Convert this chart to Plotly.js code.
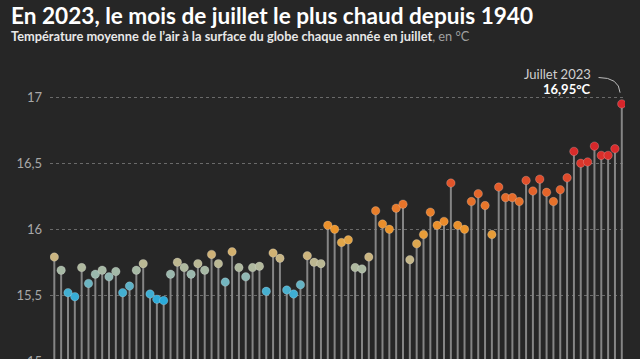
<!DOCTYPE html>
<html><head><meta charset="utf-8">
<script src="https://cdn.plot.ly/plotly-3.0.1.min.js"></script>
<style>html,body{margin:0;padding:0;background:#262626;overflow:hidden;width:640px;height:359px}#c{width:640px;height:400px}</style>
</head><body><div id="c"></div>
<script>
const startYear = 1940;
const temps = [
15.79,15.69,15.52,15.49,15.71,15.59,15.66,15.69,15.64,15.68,
15.52,15.57,15.69,15.74,15.51,15.47,15.46,15.66,15.75,15.71,
15.66,15.74,15.69,15.81,15.74,15.60,15.83,15.71,15.64,15.71,
15.72,15.53,15.82,15.78,15.54,15.51,15.58,15.80,15.75,15.74,
16.03,16.00,15.90,15.92,15.71,15.70,15.79,16.14,16.04,16.00,
16.16,16.19,15.77,15.89,15.96,16.13,16.03,16.06,16.35,16.03,
16.00,16.21,16.27,16.18,15.96,16.32,16.24,16.24,16.21,16.37,
16.29,16.38,16.28,16.21,16.30,16.39,16.59,16.50,16.51,16.63,
16.56,16.56,16.61,16.95
];
const years = temps.map((_, i) => startYear + i);
const yTicks = [15, 15.5, 16, 16.5, 17];
const yBase = 14.7;

const stemX = [], stemY = [];
years.forEach((yr, i) => { stemX.push(yr, yr, null); stemY.push(yBase, temps[i], null); });

const colorscale = [
 [0, '#27a9db'], [0.083, '#4fb1cd'], [0.167, '#97b8b0'], [0.225, '#b3b99c'],
 [0.29, '#cdb47e'], [0.375, '#e0a64a'], [0.458, '#eb952c'], [0.583, '#e87c2a'],
 [0.708, '#e3602a'], [0.833, '#dc3b2b'], [1, '#d7262b']
];

const traces = [
 {x: stemX, y: stemY, mode: 'lines', type: 'scatter', line: {color: '#858585', width: 2}, hoverinfo: 'skip'},
 {x: years, y: temps, mode: 'markers', type: 'scatter',
  marker: {size: 8.5, color: temps, colorscale: colorscale, cmin: 15.45, cmax: 16.65,
           line: {width: 0.6, color: 'rgba(255,255,255,0.35)'}}}
];

const fontFam = 'Lato, "Noto Sans", sans-serif';
const layout = {
 width: 640, height: 400,
 paper_bgcolor: '#262626', plot_bgcolor: '#262626',
 margin: {l: 50, r: 15, t: 40, b: 0},
 showlegend: false,
 separators: ', ',
 font: {family: fontFam, color: '#aaaaaa'},
 xaxis: {range: [1939.37, 2023.47], showgrid: false, zeroline: false, showticklabels: false, showline: false, ticks: ''},
 yaxis: {range: [14.707, 17.434], tickvals: yTicks, showgrid: true, gridcolor: '#6a6a6a', griddash: 'dot', gridwidth: 1,
         zeroline: false, showline: false, ticks: '', ticklabelstandoff: 7,
         tickfont: {size: 13, color: '#a8a8a8', family: fontFam}},
 annotations: [
  {xref: 'paper', yref: 'paper', x: -0.071, y: 1.069, xanchor: 'left', yanchor: 'middle', showarrow: false,
   text: '<b>En 2023, le mois de juillet le plus chaud depuis 1940</b>', font: {size: 22.6, color: '#ffffff', family: fontFam}},
  {xref: 'paper', yref: 'paper', x: -0.071, y: 1.0125, xanchor: 'left', yanchor: 'middle', showarrow: false,
   text: '<b>Température moyenne de l’air à la surface du globe chaque année en juillet</b><span style="color:#a0a0a0">, en °C</span>',
   font: {size: 12.8, color: '#e8e8e8', family: fontFam}},
  {xref: 'x', yref: 'y', x: 2018.8, y: 17.177, xanchor: 'right', yanchor: 'middle', showarrow: false,
   text: 'Juillet 2023', font: {size: 13, color: '#d0d0d0', family: fontFam}},
  {xref: 'x', yref: 'y', x: 2018.8, y: 17.063, xanchor: 'right', yanchor: 'middle', showarrow: false,
   text: '<b>16,95°C</b>', font: {size: 13, color: '#ffffff', family: fontFam}}
 ],
 shapes: [
  {type: 'path', xref: 'x', yref: 'y', path: 'M 2019.6 17.15 Q 2022.6 17.15 2022.75 17.035',
   line: {color: '#bbbbbb', width: 1}}
 ]
};
Plotly.newPlot('c', traces, layout, {displayModeBar: false, staticPlot: true});
</script></body></html>
